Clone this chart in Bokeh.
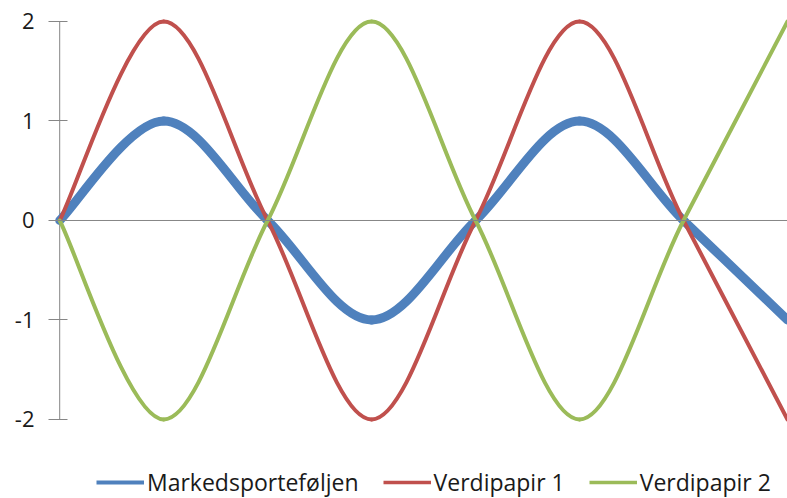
from bokeh.plotting import figure
from bokeh.models import Legend, LegendItem, FixedTicker, Span
from bokeh.embed import file_html
from bokeh.resources import INLINE

# Category positions and series values
x = [0, 1, 2, 3, 4, 5, 6, 7]
markeds = [0, 1, 0, -1, 0, 1, 0, -1]
verdi1 = [0, 2, 0, -2, 0, 2, 0, -2]
verdi2 = [0, -2, 0, 2, 0, -2, 0, 2]

y_ticks = [-2, -1, 0, 1, 2]
y_tick_labels = {-2: "-2", -1: "-1", 0: "0", 1: "1", 2: "2"}
labels = ["Markedsporteføljen", "Verdipapir 1", "Verdipapir 2"]

BLUE = "#4F81BD"
RED = "#C0504D"
GREEN = "#9BBB59"
AXIS = "#868686"
TEXT = "#1a1a1a"
FONT = "Open Sans"


def smooth_segments(xs, ys):
    """Cardinal-spline Bezier pieces through the points (smoothed line)."""
    n = len(xs)
    seg = dict(x0=[], y0=[], x1=[], y1=[], cx0=[], cy0=[], cx1=[], cy1=[])
    for i in range(n - 1):
        ip = max(i - 1, 0)
        inn = min(i + 2, n - 1)
        seg["x0"].append(xs[i]); seg["y0"].append(ys[i])
        seg["x1"].append(xs[i + 1]); seg["y1"].append(ys[i + 1])
        seg["cx0"].append(xs[i] + (xs[i + 1] - xs[ip]) / 6)
        seg["cy0"].append(ys[i] + (ys[i + 1] - ys[ip]) / 6)
        seg["cx1"].append(xs[i + 1] - (xs[inn] - xs[i]) / 6)
        seg["cy1"].append(ys[i + 1] - (ys[inn] - ys[i]) / 6)
    return seg


# the frame spans the full height; the legend sits in its lower strip
p = figure(width=787, height=498, output_backend="svg", toolbar_location=None,
           x_range=(-0.05, 7), y_range=(-2.794, 2.201),
           min_border_left=54, min_border_right=0, min_border_top=1, min_border_bottom=0)
p.outline_line_color = None
p.xgrid.visible = False
p.ygrid.visible = False
p.xaxis.visible = False

ax = p.yaxis[0]
ax.ticker = FixedTicker(ticks=y_ticks)
ax.major_label_overrides = y_tick_labels
ax.axis_line_color = None
ax.major_tick_line_color = AXIS
ax.major_tick_out = 6
ax.major_tick_in = 13
ax.minor_tick_line_color = None
ax.major_label_text_font = FONT
ax.major_label_text_font_size = "22px"
ax.major_label_text_color = TEXT
ax.major_label_standoff = 14

# value axis line and zero line
p.segment(x0=[0], y0=[-2], x1=[0], y1=[2], line_color=AXIS, line_width=1)
p.add_layout(Span(location=0, dimension="width", line_color=AXIS, line_width=1))

for ys, color, w in ((markeds, BLUE, 9), (verdi1, RED, 4), (verdi2, GREEN, 4)):
    p.bezier(source=smooth_segments(x, ys), x0="x0", y0="y0", x1="x1", y1="y1",
             cx0="cx0", cy0="cy0", cx1="cx1", cy1="cy1",
             line_color=color, line_width=w, line_cap="round")

# thinner strokes for the legend keys
k1 = p.line([0], [9], line_color=BLUE, line_width=4)
k2 = p.line([0], [9], line_color=RED, line_width=3.5)
k3 = p.line([0], [9], line_color=GREEN, line_width=3.5)

legend = Legend(items=[LegendItem(label=labels[0], renderers=[k1]),
                       LegendItem(label=labels[1], renderers=[k2]),
                       LegendItem(label=labels[2], renderers=[k3])],
                orientation="horizontal", location=(42, 0),
                glyph_width=48, glyph_height=20, label_standoff=3, spacing=24,
                padding=0, margin=0, border_line_color=None, background_fill_alpha=0,
                label_text_font=FONT, label_text_font_size="23px", label_text_color=TEXT)
p.add_layout(legend, "center")

open("out.html", "w").write(file_html(p, INLINE))
